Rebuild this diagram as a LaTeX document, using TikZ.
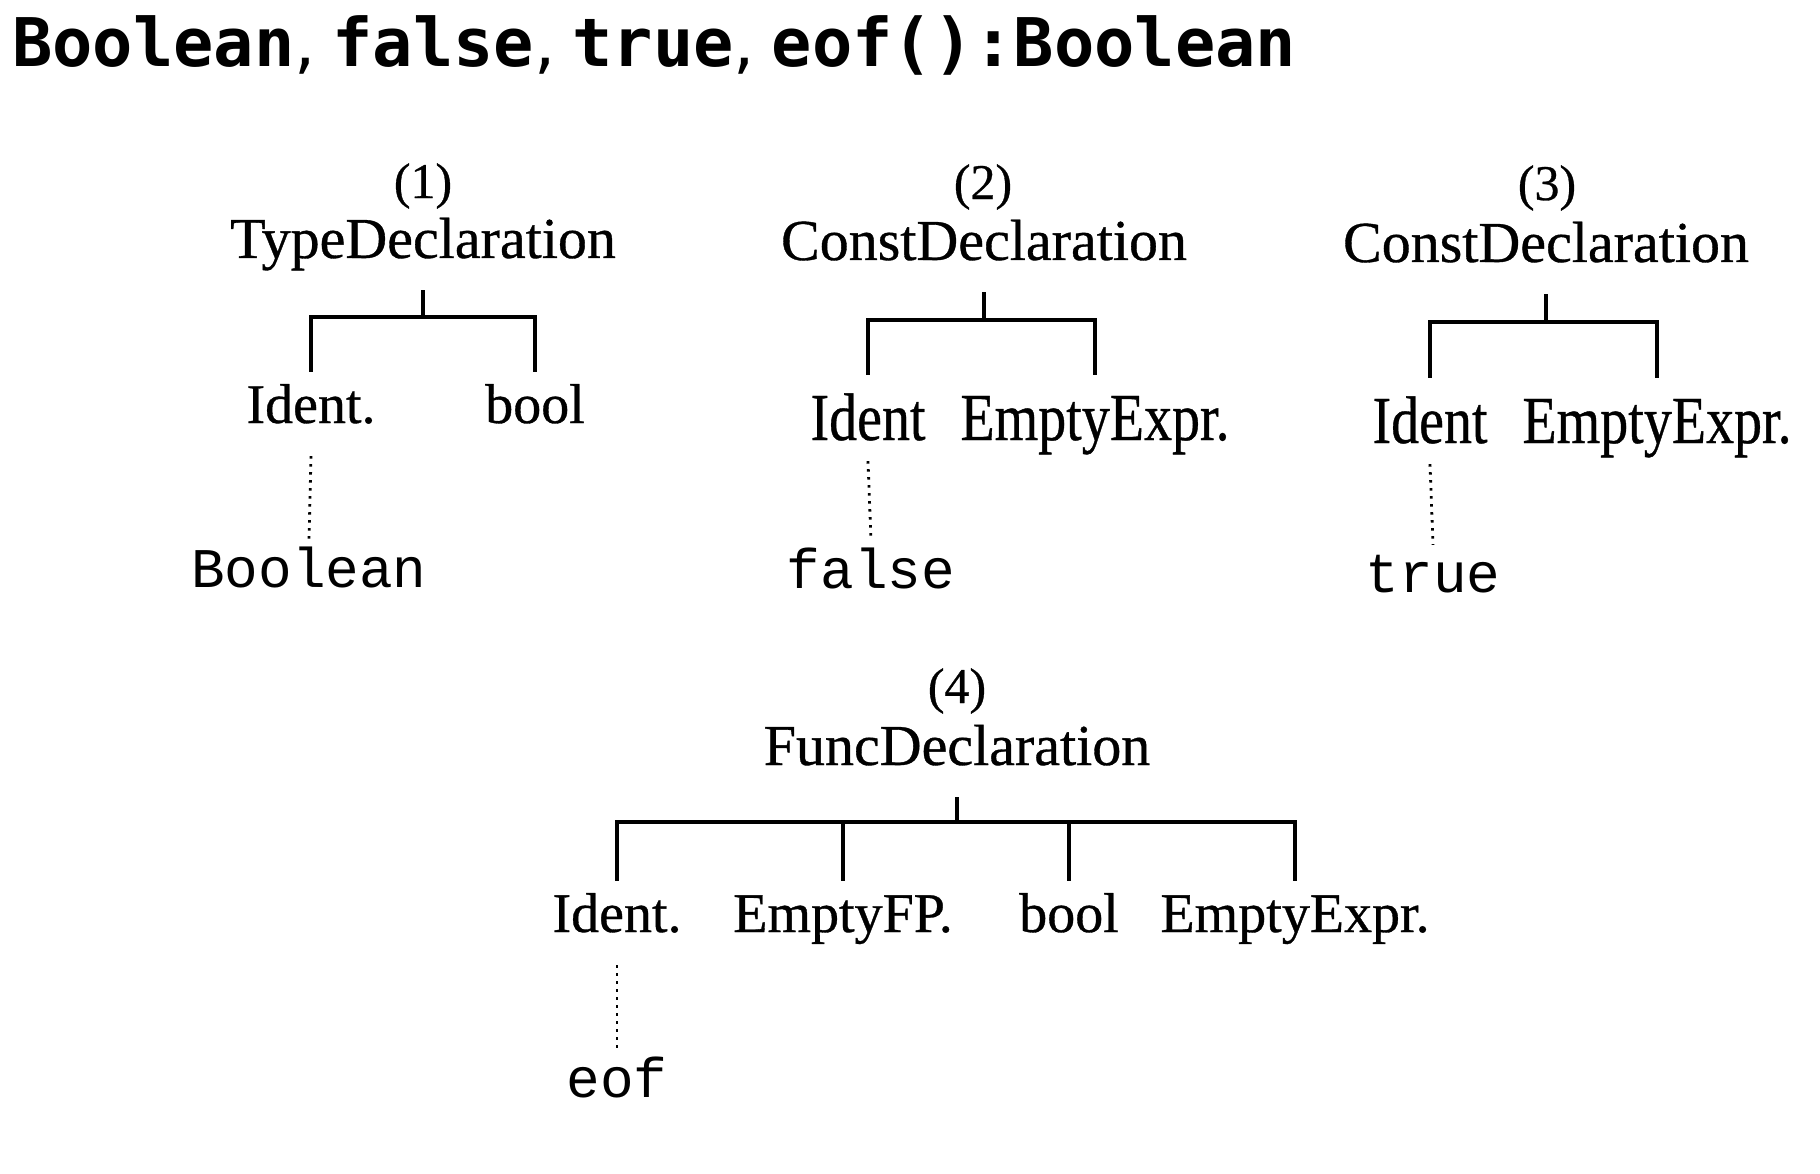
\documentclass[tikz,border=0pt]{standalone}
\usepackage{fontspec}
\usepackage{graphicx}
\setmainfont{Liberation Serif}[FakeBold=0.6]
\setmonofont{Liberation Mono}
\newfontfamily\hmono{DejaVu Sans Mono}
\newfontfamily\hsans{DejaVu Sans}
\begin{document}
\begin{tikzpicture}[x=1pt,y=-1pt,
  heading/.style={anchor=base west, inner sep=0pt, font=\fontsize{67}{70}\selectfont},
  num/.style={inner sep=0pt, font=\fontsize{50}{55}\selectfont},
  parent/.style={anchor=base, font=\fontsize{58}{60}\selectfont, text height=44pt, text depth=14pt, inner xsep=0pt, inner ysep=18pt},
  kid/.style={anchor=base, font=\fontsize{56}{60}\selectfont, text height=40pt, text depth=22pt, inner xsep=0pt, inner ysep=11pt},
  kidtall/.style={kid, text height=52pt, text depth=8pt, inner ysep=13pt},
  leaf/.style={anchor=base, font=\ttfamily\fontsize{56}{60}\selectfont, text height=36pt, text depth=12pt, inner xsep=0pt, inner ysep=11pt},
  tree/.style={line width=4.2pt, line cap=butt, line join=miter},
  dots/.style={line width=2.8pt, dash pattern=on 2.5pt off 5.5pt}]
\useasboundingbox (0,0) rectangle (1820,1174);

% heading
\node[heading] (title) at (12,67) {{\hmono\bfseries Boolean}{\hsans,} {\hmono\bfseries false}{\hsans,} {\hmono\bfseries true}{\hsans,} {\hmono\bfseries eof():Boolean}};

% tree 1
\node[num] (n1) at (423,186) {(1)};
\node[parent] (p1) at (423,258) {TypeDeclaration};
\node[kid] (c1a) at (311,423) {Ident.};
\node[kid] (c1b) at (535,423) {bool};
\node[leaf] (d1) at (309,587) {Boolean};
\coordinate (b1) at (p1.south |- 0,317);
\draw[tree] (p1.south) -- (b1);
\draw[tree] (c1a.north) |- (b1) -| (c1b.north);
\draw[dots] (c1a.south) -- (d1.north);

% tree 2
\node[num] (n2) at (983,187) {(2)};
\node[parent] (p2) at (984,260) {ConstDeclaration};
\node[kidtall] (c2a) at (868,440) {\scalebox{1}[1.2]{Ident}};
\node[kidtall] (c2b) at (1095,440) {\scalebox{1}[1.2]{EmptyExpr.}};
\node[leaf] (d2) at (871,588) {false};
\coordinate (b2) at (p2.south |- 0,320);
\draw[tree] (p2.south) -- (b2);
\draw[tree] (c2a.north) |- (b2) -| (c2b.north);
\draw[dots] (c2a.south) -- (d2.north);

% tree 3
\node[num] (n3) at (1547,188) {(3)};
\node[parent] (p3) at (1546,262) {ConstDeclaration};
\node[kidtall] (c3a) at (1430,443) {\scalebox{1}[1.2]{Ident}};
\node[kidtall] (c3b) at (1657,443) {\scalebox{1}[1.2]{EmptyExpr.}};
\node[leaf] (d3) at (1433,592) {true};
\coordinate (b3) at (p3.south |- 0,322);
\draw[tree] (p3.south) -- (b3);
\draw[tree] (c3a.north) |- (b3) -| (c3b.north);
\draw[dots] (c3a.south) -- (d3.north);

% tree 4
\node[num] (n4) at (957,691) {(4)};
\node[parent] (p4) at (957,765) {FuncDeclaration};
\node[kid] (c4a) at (617,932) {Ident.};
\node[kid] (c4b) at (843,932) {EmptyFP.};
\node[kid] (c4c) at (1069,932) {bool};
\node[kid] (c4d) at (1295,932) {EmptyExpr.};
\node[leaf] (d4) at (617,1097) {eof};
\coordinate (b4) at (p4.south |- 0,822);
\draw[tree] (p4.south) -- (b4);
\draw[tree] (c4a.north) |- (b4) -| (c4d.north);
\draw[tree] (c4b.north) -- (c4b.north |- b4);
\draw[tree] (c4c.north) -- (c4c.north |- b4);
\draw[dots] (c4a.south) -- (d4.north);
\end{tikzpicture}
\end{document}
